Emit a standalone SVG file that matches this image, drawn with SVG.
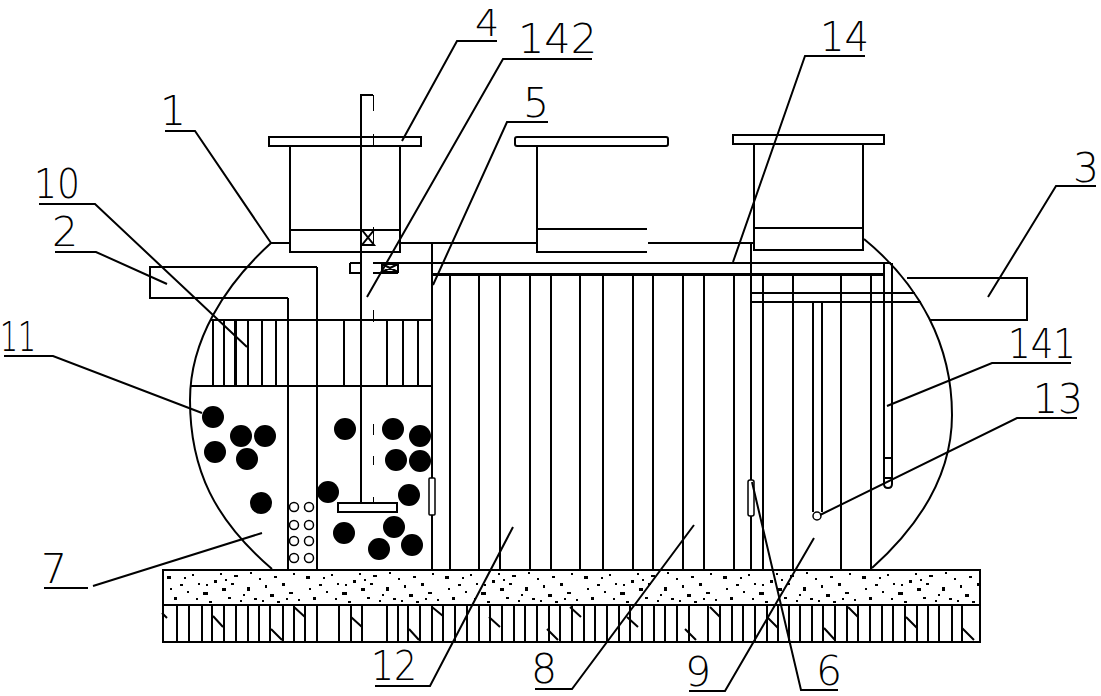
<svg xmlns="http://www.w3.org/2000/svg" width="1101" height="696" viewBox="0 0 1101 696">
<style>
.l{fill:none;stroke:#000;stroke-width:2}
.c{shape-rendering:crispEdges}
.t{fill:none;stroke:#000;stroke-width:2;shape-rendering:crispEdges}
.b{fill:#000}
.o{fill:none;stroke:#000;stroke-width:1.500}
text{font-family:"DejaVu Sans","Liberation Sans",sans-serif;font-weight:200;font-size:41px;fill:#000}
</style>
<defs>
<pattern id="speck" width="139" height="35" patternUnits="userSpaceOnUse" x="162" y="570">
<path class="b" d="M5 6h4v3h-4zM18 14h3v2h-3zM30 4h2v2h-2zM41 22h5v3h-5zM52 10h3v3h-3zM66 27h3v2h-3zM72 5h4v2h-4zM85 17h3v4h-3zM97 8h2v2h-2zM108 24h4v3h-4zM120 13h3v3h-3zM131 3h2v2h-2zM12 27h3v3h-3zM25 21h2v2h-2zM36 13h2v2h-2zM47 31h3v2h-3zM60 18h4v3h-4zM78 30h2v2h-2zM92 28h3v2h-3zM103 15h2v3h-2zM115 31h3v2h-3zM127 22h4v2h-4zM8 18h2v2h-2zM58 3h2v2h-2zM136 29h2v2h-2zM88 2h2v2h-2zM34 28h2v2h-2zM69 13h3v2h-3zM22 7h2v2h-2zM44 14h2v2h-2zM63 9h2v2h-2zM81 24h2v2h-2zM100 30h2v2h-2zM112 6h3v2h-3zM124 28h2v2h-2z"/>
</pattern>
</defs>
<g id="foundation">
<rect x="163" y="570" width="817" height="35" style="fill:url(#speck)" stroke="#000" stroke-width="2" class="c"/>
<rect x="163" y="605" width="817" height="37" class="t"/>
<path class="t" d="M177 605v37M189 605v37M202 605v37M212 605v37M224 605v37M236 605v37M248 605v37M259 605v37M270 605v37M283 605v37M294 605v37M305 605v37M317 605v37M339 605v37M351 605v37M362 605v37M387 605v37M398 605v37M408 605v37M420 605v37M432 605v37M443 605v37M455 605v37M467 605v37M479 605v37M490 605v37M502 605v37M514 605v37M525 605v37M537 605v37M549 605v37M560 605v37M572 605v37M584 605v37M595 605v37M607 605v37M619 605v37M630 605v37M642 605v37M654 605v37M665 605v37M677 605v37M689 605v37M708 605v37M720 605v37M732 605v37M743 605v37M755 605v37M767 605v37M778 605v37M789 605v37M800 605v37M812 605v37M823 605v37M835 605v37M847 605v37M858 605v37M870 605v37M882 605v37M893 605v37M905 605v37M917 605v37M928 605v37M939 605v37M952 605v37M962 605v37"/>
<path class="l" d="M162 613l5 5M213 616l10 11M271 629l11 11M294 607l11 10M351 617l11 10M409 629l10 11M432 607l11 9M489 617l11 10M547 629l11 11M570 607l11 10M627 617l11 10M685 629l11 11M710 607l10 10M767 617l11 11M824 628l11 12M848 607l10 10M906 617l11 11M962 628l12 12"/>
</g>
<g id="tank">
<path class="l" d="M271 243C225 285 190 340 190 400C190 470 215 520 272 569"/>
<path class="l" d="M864 239C920 285 952 345 952 415C952 475 920 525 872 568"/>
<path class="t" d="M271 243H290M400 243H537M648 243H754"/>
<path class="t" d="M373 263H891M350 263H361M350 263V273H361M373 273H398"/>
<path class="t" d="M432 243V570"/>
<path d="M432 274H884" fill="none" stroke="#000" stroke-width="3" class="c"/>
</g>
<g id="inlet-2">
<path class="t" d="M317 267H150V298H288M317 267V570M288 298V570"/>
</g>
<g id="outlet-3">
<path class="t" d="M907 278H1027V320H930"/>
</g>
<g id="manhole-4">
<rect x="269" y="137" width="152" height="9" class="t"/>
<path class="t" d="M290 146V252H400V146M290 230H400"/>
</g>
<g id="manhole-middle">
<rect x="515" y="137" width="153" height="9" rx="2" class="l"/>
<path class="t" d="M537 146V252H647M537 229H647"/>
</g>
<g id="manhole-right">
<rect x="733" y="135" width="151" height="9" class="t"/>
<path class="t" d="M754 144V250H863V144M754 228H863"/>
</g>
<g id="stirrer">
<path class="t" d="M373 95H361V503"/>
<path fill="none" stroke="#000" stroke-width="1" class="c" d="M373 95V111M373 134V147M373 227V245M373 310V322M373 424V435M373 456V465M373 497V503"/>
<path class="l" d="M362 230H374L362 245H374ZM382 264H398V272H382ZM382 264L398 272M398 264L382 272"/>
<rect x="338" y="503" width="59" height="9" class="t"/>
</g>
<g id="media-10">
<path class="t" d="M210 320H432M190 386H432"/>
<path class="t" d="M213 320V386M224 320V386M248 320V386M262 320V386M276 320V386M344 320V386M387 320V386M403 320V386M418 320V386"/>
<path d="M235 320V386" fill="none" stroke="#000" stroke-width="3" class="c"/>
</g>
<g id="media-11">
<circle class="b" cx="213" cy="417" r="11"/><circle class="b" cx="241" cy="436" r="11"/><circle class="b" cx="265" cy="436" r="11"/><circle class="b" cx="215" cy="452" r="11"/><circle class="b" cx="247" cy="459" r="11"/><circle class="b" cx="261" cy="503" r="11"/><circle class="b" cx="345" cy="429" r="11"/><circle class="b" cx="393" cy="429" r="11"/><circle class="b" cx="420" cy="436" r="11"/><circle class="b" cx="396" cy="460" r="11"/><circle class="b" cx="420" cy="461" r="11"/><circle class="b" cx="328" cy="492" r="11"/><circle class="b" cx="409" cy="495" r="11"/><circle class="b" cx="344" cy="533" r="11"/><circle class="b" cx="394" cy="527" r="11"/><circle class="b" cx="412" cy="545" r="11"/><circle class="b" cx="379" cy="549" r="11"/>
</g>
<g id="aerator">
<circle class="o" cx="294" cy="507" r="4.500"/><circle class="o" cx="309" cy="507" r="4.500"/><circle class="o" cx="294" cy="525" r="4.500"/><circle class="o" cx="309" cy="525" r="4.500"/><circle class="o" cx="294" cy="541" r="4.500"/><circle class="o" cx="309" cy="541" r="4.500"/><circle class="o" cx="294" cy="558" r="4.500"/><circle class="o" cx="309" cy="558" r="4.500"/>
</g>
<g id="baffles-12">
<path class="t" d="M450 570V275H479V570M500 570V275H530V570M551 570V275H580V570M603 570V275H633V570M653 570V275H683V570M704 570V275H734V570"/>
<rect x="429" y="478" width="6" height="37" rx="1" fill="#fff" stroke="#000" stroke-width="1.500"/>
</g>
<g id="chamber-9">
<path class="t" d="M751 243V570M763 570V274H793V570M841 570V274H871V570"/>
<rect x="748" y="480" width="6" height="36" rx="2" fill="#fff" stroke="#000" stroke-width="1.500"/>
<path class="t" d="M751 293H915M751 302H921"/>
<path class="t" d="M813 302V512M822 302V512"/>
<circle class="o" cx="817" cy="516" r="4"/>
</g>
<g id="pipe-141">
<path class="l" d="M884 263V484Q884 488 888 488Q892 488 892 484V263M884 458H892M884 478H892"/>
</g>
<g id="connectors">
<path class="l" d="M165 131H195L271 243"/>
<path class="l" d="M39 204H95L247 347"/>
<path class="l" d="M55 252H96L167 284"/>
<path class="l" d="M497 41H457L402 141"/>
<path class="l" d="M592 59H503L367 297"/>
<path class="l" d="M548 122H507L433 285"/>
<path class="l" d="M865 56H805L733 262"/>
<path class="l" d="M1096 186H1056L988 297"/>
<path class="l" d="M1071 363H992L887 406"/>
<path class="l" d="M1077 418H1017L820 515"/>
<path class="l" d="M4 356H53L202 413"/>
<path class="l" d="M44 588H88M93 586L262 533"/>
<path class="l" d="M375 686H430L513 527"/>
<path class="l" d="M535 689H572L694 525"/>
<path class="l" d="M689 691H725L814 538"/>
<path class="l" d="M838 690H801L752 482"/>
</g>
<g id="labels">
<text x="160" y="125">1</text>
<text x="34" y="198" textLength="46" lengthAdjust="spacingAndGlyphs">10</text>
<text x="52" y="246">2</text>
<text x="475" y="36" font-size="38" style="font-size:38px">4</text>
<text x="518" y="53" textLength="79" lengthAdjust="spacingAndGlyphs">142</text>
<text x="523" y="117">5</text>
<text x="820" y="51" textLength="49" lengthAdjust="spacingAndGlyphs">14</text>
<text x="1073" y="182">3</text>
<text x="1008" y="358" textLength="68" lengthAdjust="spacingAndGlyphs">141</text>
<text x="1033" y="413" textLength="50" lengthAdjust="spacingAndGlyphs">13</text>
<text x="0" y="351" textLength="36" lengthAdjust="spacingAndGlyphs">11</text>
<text x="41" y="583">7</text>
<text x="371" y="680" textLength="46" lengthAdjust="spacingAndGlyphs">12</text>
<text x="531" y="683">8</text>
<text x="685" y="686">9</text>
<text x="816" y="685">6</text>
</g>
</svg>
